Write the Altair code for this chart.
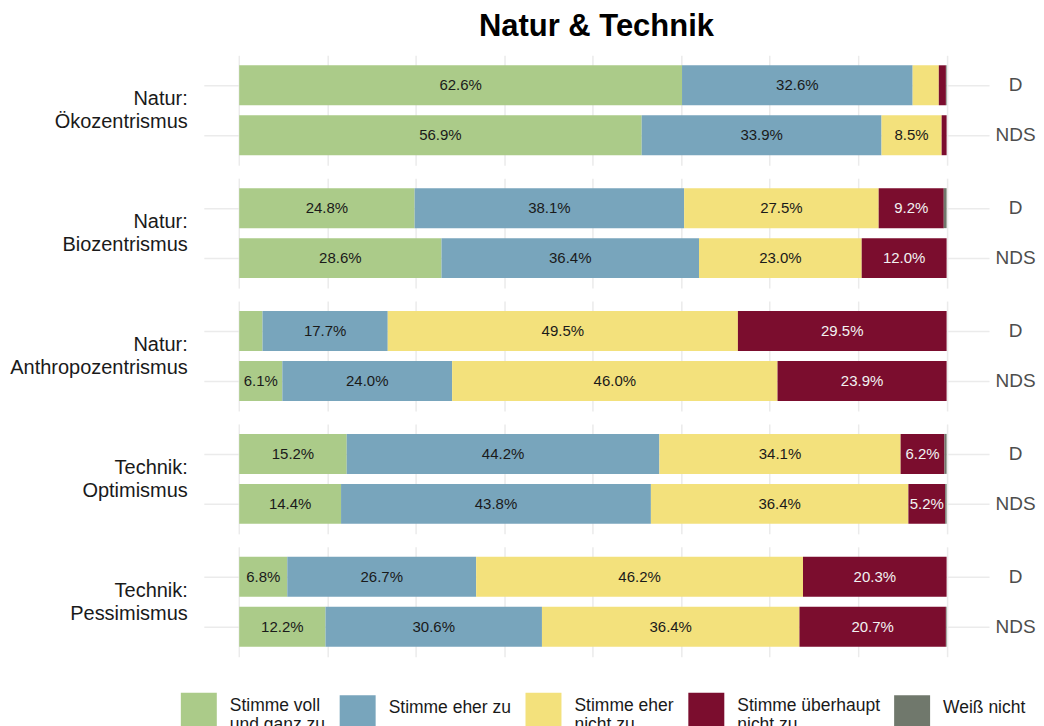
import altair as alt
import pandas as pd

groups = ["Natur: Ökozentrismus", "Natur: Biozentrismus", "Natur: Anthropozentrismus",
          "Technik: Optimismus", "Technik: Pessimismus"]
regions = ["D", "NDS"]
categories = ["Stimme voll und ganz zu", "Stimme eher zu", "Stimme eher nicht zu",
              "Stimme überhaupt nicht zu", "Weiß nicht"]
colors = ["#ABCB89", "#78A5BC", "#F3E17C", "#7B0D2E", "#70786C"]

# order of bars: each group D, NDS
voll_und_ganz = [62.6, 56.9, 24.8, 28.6, 3.3, 6.1, 15.2, 14.4, 6.8, 12.2]
eher_zu       = [32.6, 33.9, 38.1, 36.4, 17.7, 24.0, 44.2, 43.8, 26.7, 30.6]
eher_nicht    = [3.7, 8.5, 27.5, 23.0, 49.5, 46.0, 34.1, 36.4, 46.2, 36.4]
ueberhaupt    = [1.0, 0.7, 9.2, 12.0, 29.5, 23.9, 6.2, 5.2, 20.3, 20.7]
weiss_nicht   = [0.1, 0.0, 0.4, 0.0, 0.0, 0.0, 0.3, 0.2, 0.0, 0.1]
series = [voll_und_ganz, eher_zu, eher_nicht, ueberhaupt, weiss_nicht]

rows = []
i = 0
for g in groups:
    for r in regions:
        for k, cat in enumerate(categories):
            rows.append({"group": g, "region": r, "category": cat, "order": k,
                         "value": series[k][i]})
        i += 1
df = pd.DataFrame(rows)

FONT = "Liberation Sans"

base = alt.Chart().transform_stack(
    stack="value", as_=["x0", "x1"], groupby=["group", "region"],
    sort=[alt.SortField("order", order="ascending")]
)

x_scale = alt.Scale(domain=[-5, 106], nice=False, zero=False)
y_scale = alt.Scale(domain=regions, paddingInner=0.2, paddingOuter=0.2)

bars = base.mark_bar().encode(
    x=alt.X("x0:Q", scale=x_scale,
            axis=alt.Axis(values=[0, 12.5, 25, 37.5, 50, 62.5, 75, 87.5, 100],
                          labels=False, ticks=False, domain=False, title=None,
                          grid=True, gridColor="#ebebeb", gridWidth=1.5)),
    x2="x1:Q",
    y=alt.Y("region:N", scale=y_scale,
            axis=alt.Axis(orient="right", title=None, ticks=False, tickSize=0,
                          domain=False, labelFontSize=19, labelFont=FONT,
                          labelColor="#4d4d4d", labelPadding=26, labelAlign="center",
                          grid=True, gridColor="#ebebeb", gridWidth=1.5,
                          bandPosition=0.5)),
    color=alt.Color("category:N", scale=alt.Scale(domain=categories, range=colors),
                    sort=categories,
                    legend=alt.Legend(
                        title=None, orient="none", direction="horizontal",
                        legendX=-23, legendY=638, columns=5,
                        symbolType="square", symbolSize=1296, symbolStrokeWidth=0,
                        labelFontSize=17.5, labelFont=FONT, labelColor="#1a1a1a",
                        labelLimit=0, labelOffset=13, columnPadding=14,
                        labelBaseline="alphabetic",
                        labelExpr="datum.label == 'Stimme voll und ganz zu' ? ['Stimme voll', 'und ganz zu'] : datum.label == 'Stimme eher nicht zu' ? ['Stimme eher', 'nicht zu'] : datum.label == 'Stimme überhaupt nicht zu' ? ['Stimme überhaupt', 'nicht zu'] : datum.label")),
    order=alt.Order("order:Q"),
)

text = base.transform_filter("datum.value >= 5").transform_calculate(
    mid="(datum.x0 + datum.x1) / 2",
    label="format(datum.value, '.1f') + '%'"
).mark_text(fontSize=15, font=FONT, baseline="middle", align="center").encode(
    x=alt.X("mid:Q", scale=x_scale),
    y=alt.Y("region:N", scale=y_scale),
    text="label:N",
    color=alt.condition("datum.category == 'Stimme überhaupt nicht zu'",
                        alt.value("#f2f2f2"), alt.value("#1a1a1a")),
)

group_labels = alt.Chart().transform_filter(
    "datum.region == 'D' && datum.order == 0"
).transform_calculate(
    glabel="replace(datum.group, ': ', ':\\n')"
).mark_text(fontSize=20, font=FONT, color="#1a1a1a", align="right", baseline="middle",
            lineBreak="\n", lineHeight=23).encode(
    x=alt.value(-16),
    y=alt.value(44),
    text="glabel:N",
)

chart = alt.layer(bars, text, group_labels, data=df).properties(width=786, height=110).facet(
    row=alt.Row("group:N", sort=groups,
                header=alt.Header(title=None, labels=False)),
    spacing=13,
).properties(
    title=alt.TitleParams("Natur & Technik", fontSize=31, fontWeight="bold", font=FONT,
                          anchor="middle", frame="group", dx=393, color="black", offset=12),
    padding={"left": 2, "top": 3, "right": 0, "bottom": 0},
    background="white",
).configure_view(stroke=None)

chart.save("out.html", embed_options={"renderer": "svg", "actions": False})
